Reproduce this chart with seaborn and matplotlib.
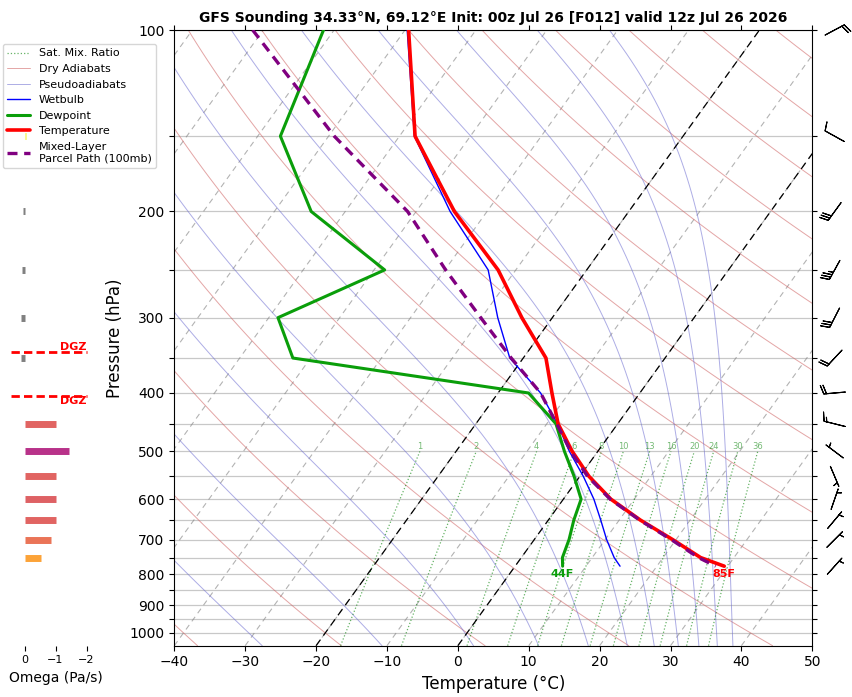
import numpy as np
import pandas as pd
import matplotlib
matplotlib.use("Agg")
import matplotlib.pyplot as plt
import matplotlib.transforms as mtransforms
from matplotlib.colors import Normalize
from matplotlib.ticker import NullFormatter
import seaborn as sns

# --- sounding values (hPa, degC) ---
pressure = [100, 150, 200, 250, 300, 350, 400, 450, 500, 550, 600, 650, 700, 750, 775]
temperature = [-69.5, -57.8, -44.6, -32.5, -24.3, -16.8, -12.4, -8.4, -3.6, 1.3, 6.7, 13.0, 19.5, 25.3, 29.5]
dewpoint = [-81.5, -76.8, -64.8, -48.5, -58.7, -52.5, -15.7, -8.7, -4.7, -0.8, 2.5, 3.6, 4.9, 5.8, 6.7]
wetbulb = [-69.7, -57.9, -45.2, -33.9, -27.7, -21.9, -14.0, -8.5, -4.0, 0.5, 4.3, 7.4, 10.2, 13.1, 14.8]
parcel = [-91.5, -69.2, -51.2, -39.9, -30.1, -21.7, -14.0, -8.6, -3.8, 1.1, 6.6, 12.9, 19.3, 25.0, 28.3]

# wind (direction from, knots)
barb_p = [100, 150, 200, 250, 300, 350, 400, 450, 500, 550, 600, 650, 700, 775]
wind_dir = [62, 299, 216, 209, 207, 223, 265, 284, 307, 157, 19, 40, 45, 42]
wind_kt = [20, 10, 30, 35, 30, 20, 20, 15, 5, 5, 5, 5, 5, 5]

# omega (Pa/s)
omega_p = [150, 200, 250, 300, 350, 450, 500, 550, 600, 650, 700, 750]
omega = [-0.05, 0.05, 0.08, 0.11, 0.1, -1.0, -1.43, -1.0, -1.03, -1.0, -0.87, -0.52]

# background reference lines
isotherms = list(range(-100, 51, 10))
dry_theta_c = list(range(-40, 241, 20))
moist_start_1050 = [-27.6, -10.7, 2.2, 11.4, 18.4, 23.9, 27.7, 31.1, 34.0, 36.6, 38.8]
mix_ratios = [1, 2, 4, 6, 8, 10, 13, 16, 20, 24, 30, 36]

title = "GFS Sounding 34.33°N, 69.12°E Init: 00z Jul 26 [F012] valid 12z Jul 26 2026"

SKEW_DEG = 34.8
P_BOT, P_TOP = 1050, 100


def sat_vp(tc):
    return 6.112 * np.exp(17.67 * tc / (tc + 243.5))


def moist_curve(t_start, pres):
    # pseudoadiabat integrated upward in ln(p)
    Rd, Cp, Lv, eps = 287.04, 1005.7, 2.501e6, 0.622

    def slope(T, p):
        es = sat_vp(T - 273.15)
        rs = eps * es / (p - es)
        return (Rd * T + Lv * rs) / (Cp + Lv * Lv * rs * eps / (Rd * T * T))

    T = t_start + 273.15
    out = [T]
    lnp = np.log(pres)
    for i in range(1, len(pres)):
        h = lnp[i] - lnp[i - 1]
        p0 = pres[i - 1]
        k1 = slope(T, p0)
        k2 = slope(T + 0.5 * h * k1, p0 * np.exp(0.5 * h))
        k3 = slope(T + 0.5 * h * k2, p0 * np.exp(0.5 * h))
        k4 = slope(T + h * k3, pres[i])
        T = T + h / 6 * (k1 + 2 * k2 + 2 * k3 + k4)
        out.append(T)
    return np.array(out) - 273.15


def mixing_dewpoint(w_gkg, pres):
    w = w_gkg / 1000.0
    e = pres * w / (0.622 + w)
    a = np.log(e / 6.112)
    return 243.5 * a / (17.67 - a)


sns.set_theme(style="ticks", rc={
    "axes.edgecolor": "black", "xtick.color": "black", "ytick.color": "black",
    "text.color": "black", "axes.labelcolor": "black", "axes.linewidth": 0.8,
    "xtick.major.size": 3.5, "ytick.major.size": 3.5, "ytick.minor.size": 3.5,
    "xtick.major.width": 0.8, "ytick.major.width": 0.8, "ytick.minor.width": 0.8,
})
plt.rcParams["font.family"] = ["DejaVu Sans"]

fig = plt.figure(figsize=(8.52, 6.97), dpi=100)
ax = fig.add_axes([174.3 / 852, 51.3 / 697, 638 / 852, 615.7 / 697])
ax.set_yscale("log")
ax.set_xlim(-40, 50)
ax.set_ylim(P_BOT, P_TOP)

skew = ax.transScale + ax.transLimits + mtransforms.Affine2D().skew_deg(SKEW_DEG, 0) + ax.transAxes

p_line = np.geomspace(P_BOT, P_TOP, 80)

# isotherms
for t in isotherms:
    ax.plot([t, t], [P_BOT, P_TOP], transform=skew, color="gray", alpha=0.6,
            lw=0.8, ls=(0, (5, 4)), zorder=1)
for t in [-20, 0]:
    ax.plot([t, t], [P_BOT, P_TOP], transform=skew, color="black",
            lw=0.9, ls=(0, (6, 4)), zorder=1.2)

# dry adiabats
h_dry = None
for th in dry_theta_c:
    tt = (th + 273.15) * (p_line / 1000.0) ** 0.2857 - 273.15
    ln, = ax.plot(tt, p_line, transform=skew, color="indianred", alpha=0.55, lw=0.7, zorder=1.1)
    h_dry = h_dry or ln

# pseudoadiabats
h_moist = None
for t0 in moist_start_1050:
    tt = moist_curve(t0, p_line)
    ln, = ax.plot(tt, p_line, transform=skew, color="#6a6ad0", alpha=0.55, lw=0.7, zorder=1.1)
    h_moist = h_moist or ln

# saturation mixing ratio lines
p_mix = np.geomspace(P_BOT, 500, 30)
h_mix = None
for w in mix_ratios:
    tt = mixing_dewpoint(w, p_mix)
    ln, = ax.plot(tt, p_mix, transform=skew, color="green", alpha=0.6, lw=0.9, ls=":", zorder=1.1)
    h_mix = h_mix or ln
    ax.text(tt[-1], 500, str(w), transform=skew, ha="center", va="bottom",
            fontsize=6, color="green", alpha=0.55, zorder=1.1)

# profiles
df = pd.DataFrame({"p": pressure, "T": temperature, "Td": dewpoint,
                   "Tw": wetbulb, "parcel": parcel})
sns.lineplot(data=df, x="Tw", y="p", sort=False, estimator=None, ax=ax,
             color="blue", linewidth=1.0, transform=skew, zorder=3, legend=False)
sns.lineplot(data=df, x="Td", y="p", sort=False, estimator=None, ax=ax,
             color="#0a9e0a", linewidth=2.2, transform=skew, zorder=3, legend=False)
sns.lineplot(data=df, x="T", y="p", sort=False, estimator=None, ax=ax,
             color="red", linewidth=2.6, transform=skew, zorder=4, legend=False)
sns.lineplot(data=df, x="parcel", y="p", sort=False, estimator=None, ax=ax,
             color="purple", linewidth=2.4, linestyle=(0, (3, 2)), transform=skew,
             zorder=5, legend=False)
h_tw, h_td, h_t, h_parcel = ax.lines[-4:]

t_f = temperature[-1] * 9 / 5 + 32
td_f = dewpoint[-1] * 9 / 5 + 32
ax.annotate(f"{td_f:.0f}F", xy=(dewpoint[-1], pressure[-1]), xycoords=skew,
            xytext=(0, -2), textcoords="offset points", ha="center", va="top",
            color="#0a9e0a", fontsize=8, fontweight="bold", zorder=6)
ax.annotate(f"{t_f:.0f}F", xy=(temperature[-1], pressure[-1]), xycoords=skew,
            xytext=(0, -2), textcoords="offset points", ha="center", va="top",
            color="red", fontsize=8, fontweight="bold", zorder=6)

# wind barbs right of the plot
wd = np.deg2rad(np.array(wind_dir, dtype=float))
ws = np.array(wind_kt, dtype=float)
u = -ws * np.sin(wd)
v = -ws * np.cos(wd)
barb_trans = mtransforms.blended_transform_factory(ax.transAxes, ax.transData)
ax.barbs(np.full(len(barb_p), 1.035), barb_p, u, v, transform=barb_trans,
         pivot="middle", length=5.6, linewidth=0.8, color="black", clip_on=False)

# axes cosmetics
major = [100, 200, 300, 400, 500, 600, 700, 800, 900, 1000]
minor = [150, 250, 350, 450, 550, 650, 750, 850, 950]
ax.set_yticks(major, [str(v) for v in major])
ax.set_yticks(minor, minor=True)
ax.yaxis.set_minor_formatter(NullFormatter())
ax.set_xticks(range(-40, 51, 10))
ax.set_xlim(-40, 50)
ax.set_ylim(P_BOT, P_TOP)
ax.tick_params(which="both", top=True, right=True, labelsize=10)
ax.yaxis.grid(True, which="both", color="#c8c8c8", lw=0.9)
ax.xaxis.grid(False)
ax.set_xlabel("Temperature (°C)", fontsize=12)
ax.set_ylabel("Pressure (hPa)", fontsize=12)
ax.set_title(title, fontsize=10, fontweight="bold")

ax.legend([h_mix, h_dry, h_moist, h_tw, h_td, h_t, h_parcel],
          ["Sat. Mix. Ratio", "Dry Adiabats", "Pseudoadiabats", "Wetbulb",
           "Dewpoint", "Temperature", "Mixed-Layer\nParcel Path (100mb)"],
          loc="upper left", bbox_to_anchor=(3 / 852, 1 - 44 / 697),
          bbox_transform=fig.transFigure, fontsize=8, borderaxespad=0)

# omega panel
ax_w = fig.add_axes([9 / 852, 51.3 / 697, 93 / 852, 615.7 / 697])
ax_w.set_facecolor("none")
ax_w.set_yscale("log")
cmap = plt.get_cmap("plasma_r")
norm = Normalize(0, 2.5)
colors = ["gray" if w > 0 else cmap(norm(-w)) for w in omega]
ax_w.hlines(omega_p, 0, omega, colors=colors, lw=5)

log_p = np.log(pressure)
dgz_top = np.exp(np.interp(-18, temperature, log_p))
dgz_bot = np.exp(np.interp(-12, temperature, log_p))
ax_w.hlines([dgz_top, dgz_bot], 0.45, -2.0, colors="red", linestyles=(0, (3, 1.5)), lw=2)
ax_w.text(-2.0, dgz_top, "DGZ", ha="right", va="bottom", color="red",
          fontsize=8, fontweight="bold")
ax_w.text(-2.0, dgz_bot, "DGZ", ha="right", va="top", color="red",
          fontsize=8, fontweight="bold")

ax_w.set_xlim(0.5, -2.5)
ax_w.set_ylim(P_BOT, P_TOP)
ax_w.set_xticks([0, -1, -2])
ax_w.set_yticks([])
ax_w.set_yticks([], minor=True)
for s in ax_w.spines.values():
    s.set_visible(False)
ax_w.tick_params(axis="x", labelsize=8, length=3.5)
ax_w.set_xlabel("Omega (Pa/s)", fontsize=10)

fig.savefig("out.png", dpi=100)
